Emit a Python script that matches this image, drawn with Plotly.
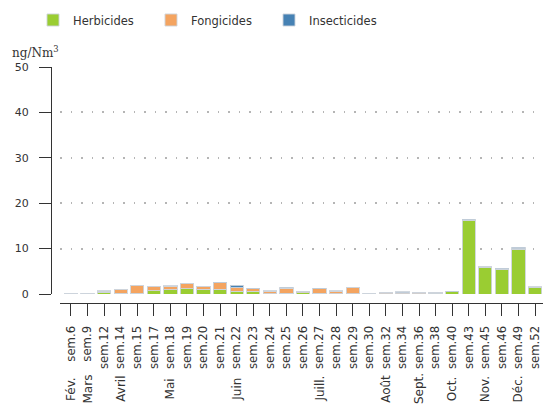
import plotly.graph_objects as go

# ---- data ----
weeks = ["sem.6", "sem.9", "sem.12", "sem.14", "sem.15", "sem.17", "sem.18", "sem.19",
         "sem.20", "sem.21", "sem.22", "sem.23", "sem.24", "sem.25", "sem.26", "sem.27",
         "sem.28", "sem.29", "sem.30", "sem.32", "sem.34", "sem.36", "sem.38", "sem.40",
         "sem.43", "sem.45", "sem.46", "sem.49", "sem.52"]
herbicides = [0.05, 0.1, 0.35, 0.2, 0.2, 0.7, 0.9, 1.2, 1.0, 1.0, 0.6, 0.6, 0.1, 0.2, 0.3,
              0.2, 0.1, 0.1, 0.05, 0.1, 0.1, 0.1, 0.2, 0.5, 16.3, 5.9, 5.4, 9.9, 1.5]
fongicides = [0.0, 0.0, 0.3, 0.8, 1.7, 0.9, 0.85, 1.15, 0.6, 1.5, 0.8, 0.6, 0.55, 1.1, 0.15,
              0.95, 0.55, 1.35, 0.0, 0.15, 0.15, 0.15, 0.05, 0.05, 0.05, 0.05, 0.05, 0.05, 0.0]
insecticides = [0.0, 0.0, 0.05, 0.05, 0.05, 0.05, 0.05, 0.05, 0.05, 0.05, 0.5, 0.05, 0.05,
                0.15, 0.0, 0.1, 0.05, 0.05, 0.0, 0.05, 0.25, 0.05, 0.05, 0.05, 0.1, 0.1,
                0.25, 0.3, 0.05]
month_weeks = ["sem.6", "sem.9", "sem.14", "sem.18", "sem.22", "sem.27", "sem.32",
               "sem.36", "sem.40", "sem.45", "sem.49"]
month_labels = ["Fév.", "Mars", "Avril", "Mai", "Juin", "Juill.", "Août", "Sept.",
                "Oct.", "Nov.", "Déc."]
y_ticks = [0, 10, 20, 30, 40, 50]

# ---- geometry ----
W, H = 543, 405
ML, MR, MT, MB = 51, 0, 67, 102
PW, PH = W - ML - MR, H - MT - MB
FONT = "DejaVu Sans"
INK = "#333333"


def py(ypx):
    return (H - MB - ypx) / PH


def px(xpx):
    return (xpx - ML) / PW


edge = dict(color="rgba(205,212,220,0.9)", width=1)

fig = go.Figure()
fig.add_trace(go.Bar(name="Herbicides", x=weeks, y=herbicides,
                     marker=dict(color="#9ACD32", line=edge)))
fig.add_trace(go.Bar(name="Fongicides", x=weeks, y=fongicides,
                     marker=dict(color="#F4A460", line=edge)))
fig.add_trace(go.Bar(name="Insecticides", x=weeks, y=insecticides,
                     marker=dict(color="#4682B4", line=edge)))

for wk, lab in zip(month_weeks, month_labels):
    fig.add_annotation(x=wk, xref="x", y=py(389), yref="paper", text=lab,
                       textangle=-90, showarrow=False, xanchor="center",
                       yanchor="middle", font=dict(family=FONT, size=12, color=INK))

fig.add_annotation(x=px(10), xref="paper", y=py(52), yref="paper",
                   text="ng/Nm<sup>3</sup>", showarrow=False, xanchor="left",
                   yanchor="middle", font=dict(family="DejaVu Serif", size=12, color=INK))

fig.update_layout(
    width=W, height=H,
    margin=dict(l=ML, r=MR, t=MT, b=MB, pad=0, autoexpand=False),
    barmode="stack", bargap=0.2,
    plot_bgcolor="white", paper_bgcolor="white",
    font=dict(family=FONT, size=11, color=INK),
    showlegend=True,
    legend=dict(orientation="h", xref="container", yref="container",
                x=33 / W, y=1 - 20 / H, xanchor="left", yanchor="middle",
                font=dict(family=FONT, size=11.5, color=INK),
                entrywidth=73, traceorder="normal", bgcolor="rgba(0,0,0,0)"),
    xaxis=dict(type="category", domain=[9 / PW, 1], anchor="free", position=0,
               automargin=False,
               range=[-0.66, 28.48], showline=True, linecolor=INK, linewidth=1.3,
               ticks="outside", ticklen=12, tickcolor=INK, tickwidth=1.3,
               tickangle=-90, ticklabelstandoff=5,
               tickfont=dict(family=FONT, size=11.7, color=INK),
               showgrid=False, zeroline=False),
    yaxis=dict(domain=[9 / PH, 1], anchor="free", position=0, range=[0, 50],
               automargin=False,
               tickvals=y_ticks, showline=True, linecolor=INK, linewidth=1.3,
               ticks="outside", ticklen=12, tickcolor=INK, tickwidth=1.3,
               ticklabelstandoff=8,
               tickfont=dict(family=FONT, size=11, color=INK),
               showgrid=True, gridcolor="#b5b5b5", gridwidth=1.5,
               griddash="1.5px,9px", zeroline=False),
)

fig.write_html("out.html",
               config={"displayModeBar": False},
               post_script="document.body.style.margin='0px';"
                           "document.body.style.overflow='hidden';")
